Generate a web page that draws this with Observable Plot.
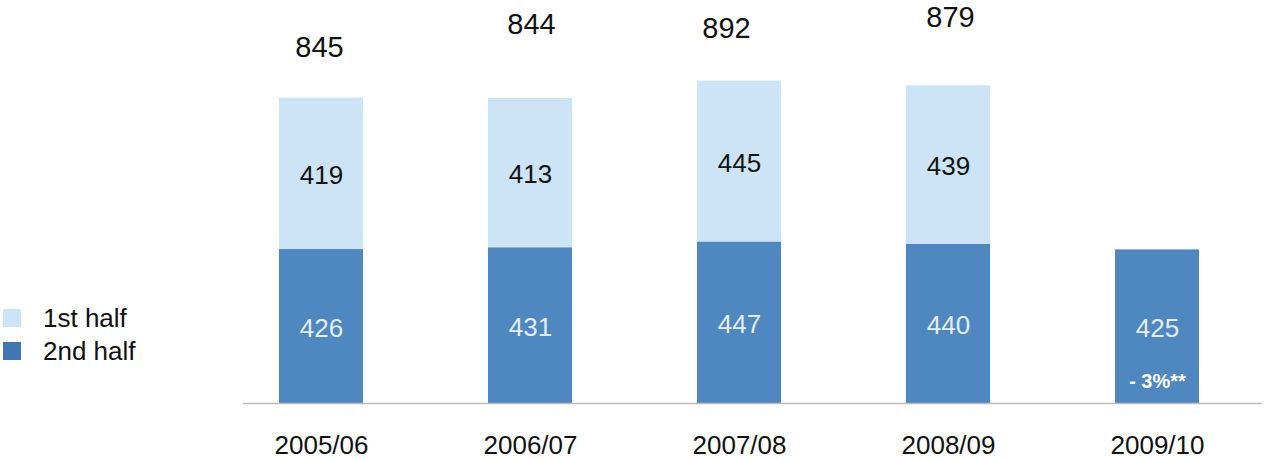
<!DOCTYPE html>
<html><head><meta charset="utf-8">
<script src="https://cdn.jsdelivr.net/npm/d3@7"></script>
<script src="https://cdn.jsdelivr.net/npm/@observablehq/plot@0.6"></script>
<style>
body{margin:0;background:#fff;font-family:"Liberation Sans",Arial,sans-serif;}
#wrap{position:relative;width:1264px;height:459px;overflow:hidden;}
.leg{position:absolute;left:3px;display:flex;align-items:center;font-size:26px;line-height:18px;height:18px;color:#111;}
.sw{display:inline-block;width:18px;height:18px;margin-right:22px}
</style></head><body>
<div id="wrap"><div id="chart"></div>
<div class="leg" style="top:309px"><span class="sw" style="background:#cde3f6"></span>1st half</div>
<div class="leg" style="top:342px"><span class="sw" style="background:#3f76b3"></span>2nd half</div>
</div>
<script>
const seasons = ["2005/06", "2006/07", "2007/08", "2008/09", "2009/10"];
const firstHalf = [419, 413, 445, 439, null];
const secondHalf = [426, 431, 447, 440, 425];
const totals = [845, 844, 892, 879, null];
const notes = [null, null, null, null, "- 3%**"];

// style: pixel offsets of each total label relative to its bar top/centre
const totalLift = [-50, -74, -52, -68, 0];
const totalShift = [-2, 1, -13, 2, 0];

const LIGHT = "#cde3f6", DARK = "#4f87c0";
const rows = seasons.map((s, i) => ({
  season: s, first: firstHalf[i], second: secondHalf[i], total: totals[i], note: notes[i]
}));
const rowsFirst = rows.filter(d => d.first != null);
const rowsNote = rows.filter(d => d.note != null);

const totalMarks = rows.map((d, i) => d.total == null ? null :
  Plot.text([d], {x: "season", y: "total", text: r => String(r.total), fill: "#111", fontSize: 29, dy: totalLift[i], dx: totalShift[i]})
).filter(Boolean);

const chart = Plot.plot({
  width: 1264, height: 459,
  marginLeft: 243, marginRight: 2, marginTop: 0, marginBottom: 56,
  style: {fontFamily: "'Liberation Sans', Arial, sans-serif", fontSize: "26px", color: "#111", background: "#fff"},
  x: {domain: seasons, paddingInner: 0.6, paddingOuter: 0.2315, align: 0.36, label: null},
  y: {domain: [0, 1115], axis: null},
  marks: [
    Plot.barY(rows, {x: "season", y1: 0, y2: "second", fill: DARK}),
    Plot.barY(rowsFirst, {x: "season", y1: "second", y2: d => d.second + d.first, fill: LIGHT}),
    Plot.ruleY([0], {stroke: "#bbbbbb", strokeWidth: 1.5}),
    Plot.axisX({tickSize: 0, tickPadding: 32, fontSize: 26, fill: "#111", label: null}),
    Plot.text(rowsFirst, {x: "season", y: d => d.second + d.first / 2, text: d => String(d.first), fill: "#111", fontSize: 26, dy: 2}),
    Plot.text(rows, {x: "season", y: d => d.second / 2, text: d => String(d.second), fill: "#e4eef9", fontSize: 26, dy: 2}),
    ...totalMarks,
    Plot.text(rowsNote, {x: "season", y: 0, text: "note", fill: "#fff", fontSize: 20, fontWeight: "bold", dy: -22})
  ]
});
document.getElementById("chart").appendChild(chart);
</script>
</body></html>
